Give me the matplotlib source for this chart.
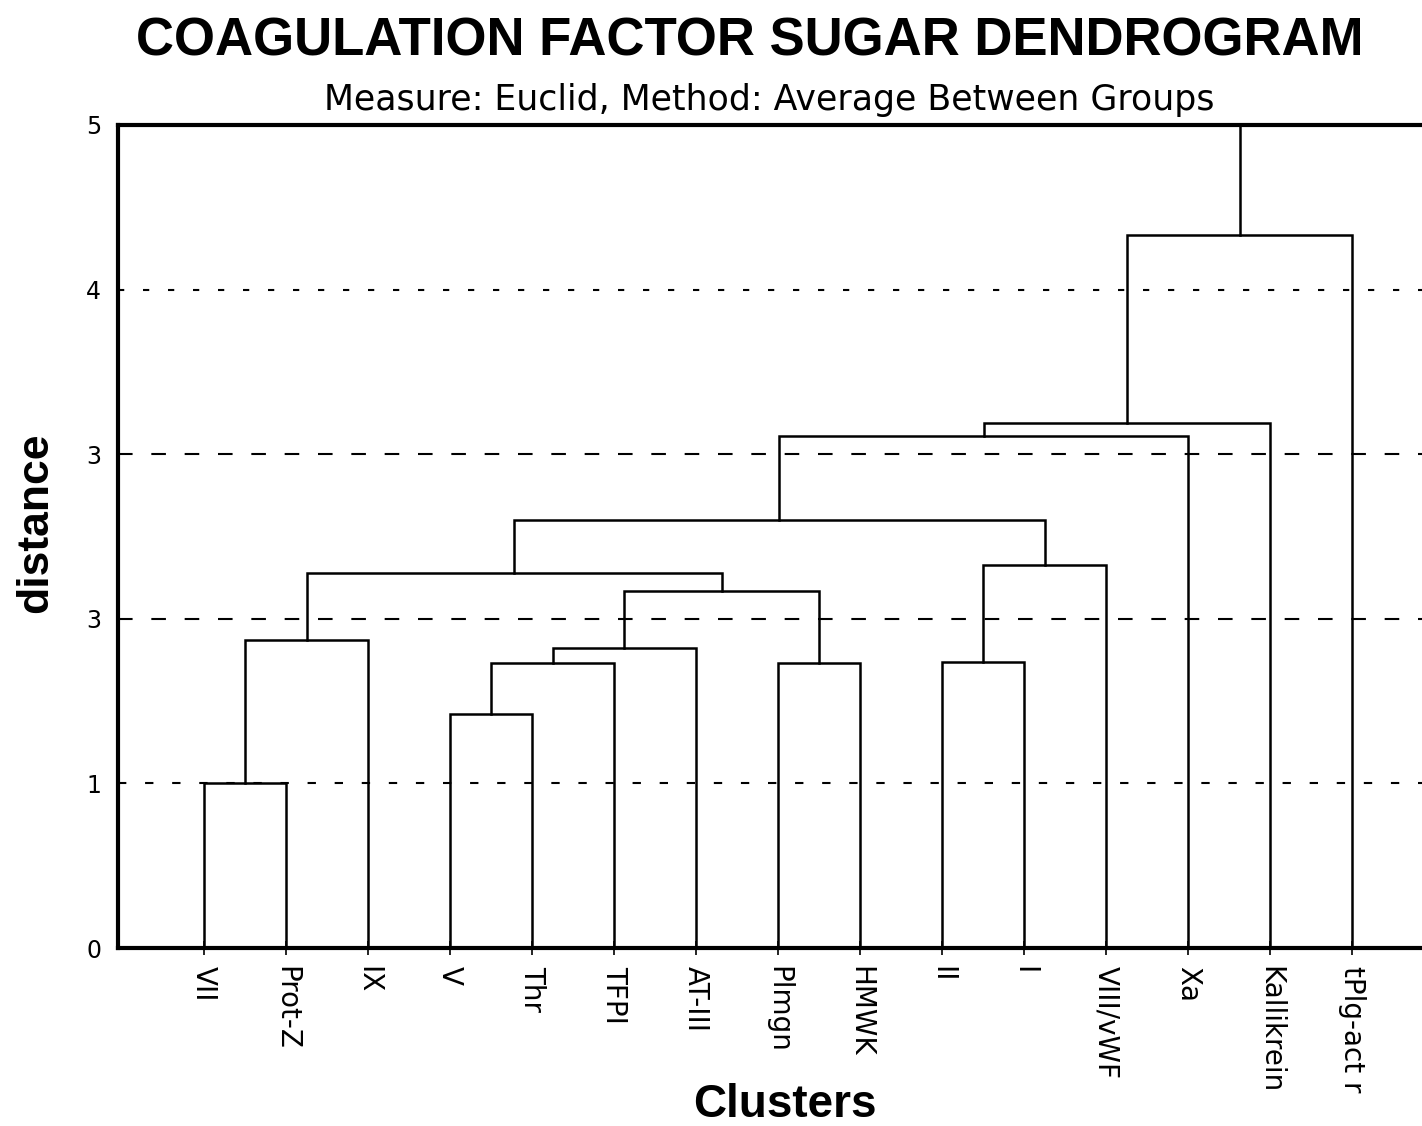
import numpy as np
import matplotlib
matplotlib.use("Agg")
import matplotlib.pyplot as plt

# leaves in dendrogram order
leaves = ["VII", "Prot-Z", "IX", "V", "Thr", "TFPI", "AT-III", "Plmgn",
          "HMWK", "II", "I", "VIII/vWF", "Xa", "Kallikrein", "tPlg-act r"]

# merges: (node a, node b, distance); nodes 0..14 are leaves, 15.. are clusters
merge_a = [0, 15, 3, 17, 18, 7, 19, 16, 9, 23, 22, 25, 26, 27]
merge_b = [1, 2, 4, 5, 6, 8, 20, 21, 10, 11, 24, 12, 13, 14]
merge_h = [1.00, 1.87, 1.42, 1.73, 1.82, 1.73, 2.17, 2.28, 1.74, 2.33,
           2.60, 3.11, 3.19, 4.33]

ytick_vals = [0, 1, 2, 3, 4, 5]
ytick_labels = ["0", "1", "3", "3", "4", "5"]

fig = plt.figure(figsize=(14.22, 11.26), dpi=100)
ax = fig.add_axes([0.083, 0.158, 0.9255, 0.731])

pos = {i: float(i) for i in range(len(leaves))}
hgt = {i: 0.0 for i in range(len(leaves))}
node = len(leaves)
for a, b, h in zip(merge_a, merge_b, merge_h):
    xa, xb = pos[a], pos[b]
    ax.plot([xa, xa, xb, xb], [hgt[a], h, h, hgt[b]], color="black", lw=1.8,
            solid_joinstyle="miter", zorder=3)
    pos[node] = (xa + xb) / 2
    hgt[node] = h
    node += 1

# root stem up to the top of the frame
root = node - 1
ax.plot([pos[root], pos[root]], [hgt[root], 5], color="black", lw=1.8, zorder=3)

# grid lines
for yv, ls in [(1, (0, (4, 9))), (2, (0, (7, 9))), (3, (0, (7, 9))), (4, (0, (3, 9)))]:
    ax.axhline(yv, color="black", lw=1.5, linestyle=ls, zorder=1)

ax.set_xlim(-1.05, 15)
ax.set_ylim(0, 5)

for side in ["left", "top", "bottom"]:
    ax.spines[side].set_linewidth(3)
ax.spines["right"].set_visible(False)

ax.set_xticks(range(len(leaves)))
ax.set_xticklabels(leaves, rotation=270, fontsize=20, family="DejaVu Sans")
ax.tick_params(axis="x", direction="inout", length=10, width=1.2, pad=8)
ax.set_yticks(ytick_vals)
ax.set_yticklabels(ytick_labels, fontsize=17, family="DejaVu Sans")
ax.tick_params(axis="y", length=0, pad=12)

fig.text(0.527, 0.963, "COAGULATION FACTOR SUGAR DENDROGRAM", ha="center",
         va="center", fontsize=38, fontweight="bold", family="Liberation Sans")
fig.text(0.541, 0.911, "Measure: Euclid, Method: Average Between Groups",
         ha="center", va="center", fontsize=25, family="DejaVu Sans")
fig.text(0.025, 0.536, "distance", rotation=90, ha="center", va="center",
         fontsize=32, fontweight="bold", family="Liberation Sans")
fig.text(0.552, 0.019, "Clusters", ha="center", va="center", fontsize=33,
         fontweight="bold", family="Liberation Sans")

fig.savefig("out.png", dpi=100)
